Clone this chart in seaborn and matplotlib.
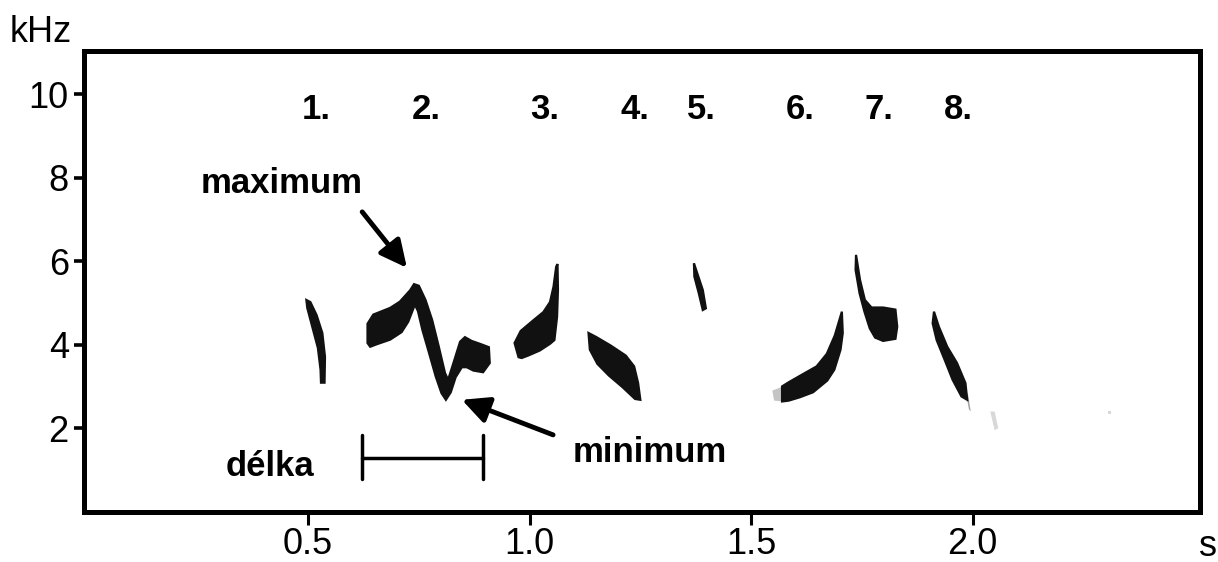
import matplotlib
matplotlib.use("Agg")
import matplotlib.pyplot as plt
import seaborn as sns

# syllable numbers above the song
syllable_labels = ["1.", "2.", "3.", "4.", "5.", "6.", "7.", "8."]
label_times = [0.518, 0.766, 1.035, 1.238, 1.387, 1.612, 1.788, 1.967]
label_freq = 9.62

x_ticks = [0.5, 1.0, 1.5, 2.0]
x_ticklabels = ["0.5", "1.0", "1.5", "2.0"]
y_ticks = [2, 4, 6, 8, 10]

# outlines of the syllables in the sonogram (time s, frequency kHz)
note1 = [(0.496, 5.07), (0.498, 4.88), (0.510, 4.40), (0.522, 3.92), (0.528, 3.40),
         (0.529, 3.09), (0.537, 3.09), (0.538, 3.71), (0.532, 4.28), (0.519, 4.71),
         (0.505, 5.02)]
note2 = [(0.634, 4.04), (0.634, 4.50), (0.647, 4.72), (0.685, 4.88), (0.707, 5.03),
         (0.730, 5.30), (0.739, 5.45), (0.750, 5.41), (0.765, 5.07), (0.780, 4.59),
         (0.795, 3.95), (0.809, 3.32), (0.816, 3.16), (0.828, 3.56), (0.843, 4.07),
         (0.854, 4.18), (0.869, 4.09), (0.888, 4.02), (0.908, 3.94), (0.910, 3.56),
         (0.895, 3.34), (0.873, 3.38), (0.858, 3.46), (0.847, 3.46), (0.833, 3.22),
         (0.822, 2.86), (0.811, 2.68), (0.801, 2.84), (0.788, 3.24), (0.773, 3.80),
         (0.758, 4.35), (0.748, 4.80), (0.741, 4.96), (0.726, 4.55), (0.711, 4.30),
         (0.685, 4.12), (0.655, 4.01), (0.640, 3.95)]
note3 = [(0.975, 3.70), (0.966, 4.04), (0.980, 4.33), (1.008, 4.58), (1.031, 4.78),
         (1.046, 5.02), (1.054, 5.39), (1.060, 5.87), (1.063, 5.93), (1.064, 5.31),
         (1.062, 4.67), (1.056, 4.11), (1.046, 4.02), (1.023, 3.86), (0.997, 3.74),
         (0.982, 3.68)]
note4 = [(1.133, 4.28), (1.151, 4.18), (1.183, 3.98), (1.217, 3.74), (1.236, 3.48),
         (1.245, 3.08), (1.250, 2.68), (1.238, 2.70), (1.210, 2.98), (1.179, 3.26),
         (1.153, 3.54), (1.136, 3.88)]
note5 = [(1.371, 5.95), (1.381, 5.63), (1.391, 5.31), (1.398, 4.87), (1.391, 4.83),
         (1.382, 5.23), (1.372, 5.63)]
note6 = [(1.570, 3.00), (1.585, 3.10), (1.618, 3.30), (1.648, 3.48), (1.671, 3.78),
         (1.689, 4.22), (1.705, 4.79), (1.707, 4.28), (1.702, 3.88), (1.688, 3.40),
         (1.672, 3.14), (1.640, 2.86), (1.610, 2.74), (1.585, 2.66), (1.570, 2.64)]
note7 = [(1.737, 6.15), (1.746, 5.55), (1.757, 5.07), (1.772, 4.89), (1.798, 4.89),
         (1.826, 4.84), (1.830, 4.43), (1.826, 4.14), (1.798, 4.09), (1.780, 4.17),
         (1.768, 4.39), (1.756, 4.79), (1.745, 5.23), (1.736, 5.79)]
note8 = [(1.913, 4.79), (1.924, 4.43), (1.943, 3.95), (1.965, 3.56), (1.984, 3.08),
         (1.988, 2.68), (1.975, 2.76), (1.955, 3.16), (1.937, 3.64), (1.919, 4.11),
         (1.910, 4.51)]
notes = [note1, note2, note3, note4, note5, note6, note7, note8]

# faint traces of the recording
faint6 = [(1.548, 2.90), (1.572, 3.00), (1.572, 2.64), (1.552, 2.66)]
faint8 = [(1.984, 2.90), (1.992, 2.45), (1.996, 2.40), (1.990, 2.80)]
faint_specks = [[(2.040, 2.40), (2.050, 2.40), (2.058, 2.00), (2.050, 1.95)],
                [(2.305, 2.42), (2.312, 2.42), (2.312, 2.34), (2.305, 2.34)]]

delka_start, delka_end = 0.621, 0.895

sns.set_style("white")
plt.rcParams["font.family"] = ["Liberation Sans", "DejaVu Sans"]
plt.rcParams["text.color"] = "black"

fig = plt.figure(figsize=(12.18, 5.62), dpi=100)
ax = fig.add_axes([0.069, 0.0895, 0.916, 0.8203])

for pts in faint_specks:
    t, f = zip(*pts)
    ax.fill(t, f, color="#d8d8d8", lw=0)
t, f = zip(*faint8)
ax.fill(t, f, color="#a0a0a0", lw=0)
t, f = zip(*faint6)
ax.fill(t, f, color="#c4c4c4", lw=0)

for pts in notes:
    t, f = zip(*pts)
    ax.fill(t, f, facecolor="#111111", edgecolor="#111111", lw=1.6)

for lab, tx in zip(syllable_labels, label_times):
    ax.text(tx, label_freq, lab, ha="center", va="center", fontsize=25, fontweight="bold")

ax.text(0.439, 7.87, "maximum", ha="center", va="center", fontsize=25, fontweight="bold")
ax.text(1.272, 1.41, "minimum", ha="center", va="center", fontsize=25, fontweight="bold")
ax.text(0.414, 1.08, "délka", ha="center", va="center", fontsize=25, fontweight="bold")

arrow = dict(arrowstyle="-|>,head_length=0.65,head_width=0.32", lw=3.5, color="black",
             shrinkA=0, shrinkB=0, mutation_scale=25)
ax.annotate("", xy=(0.723, 5.84), xytext=(0.622, 7.18), arrowprops=arrow)
ax.annotate("", xy=(0.847, 2.68), xytext=(1.053, 1.84), arrowprops=arrow)

# length bracket
ax.plot([delka_start, delka_end], [1.28, 1.28], color="black", lw=2.5)
ax.plot([delka_start, delka_start], [0.78, 1.84], color="black", lw=2.5)
ax.plot([delka_end, delka_end], [0.78, 1.84], color="black", lw=2.5)

ax.set_xlim(-0.006, 2.513)
ax.set_ylim(0, 11.04)
ax.set_xticks(x_ticks, x_ticklabels)
ax.set_yticks(y_ticks)
ax.tick_params(axis="x", bottom=True, direction="out", length=9, width=2.2, pad=2,
               labelsize=26, colors="black")
ax.tick_params(axis="y", left=True, direction="out", length=7, width=2.6, pad=4,
               labelsize=26, colors="black")
for sp in ax.spines.values():
    sp.set_visible(True)
    sp.set_linewidth(3.6)
    sp.set_color("black")

fig.text(10 / 1218, 1 - 42 / 562, "kHz", ha="left", va="baseline", fontsize=26)
fig.text(1199 / 1218, 1 - 556 / 562, "s", ha="left", va="baseline", fontsize=26)

fig.savefig("out.png", dpi=100)
